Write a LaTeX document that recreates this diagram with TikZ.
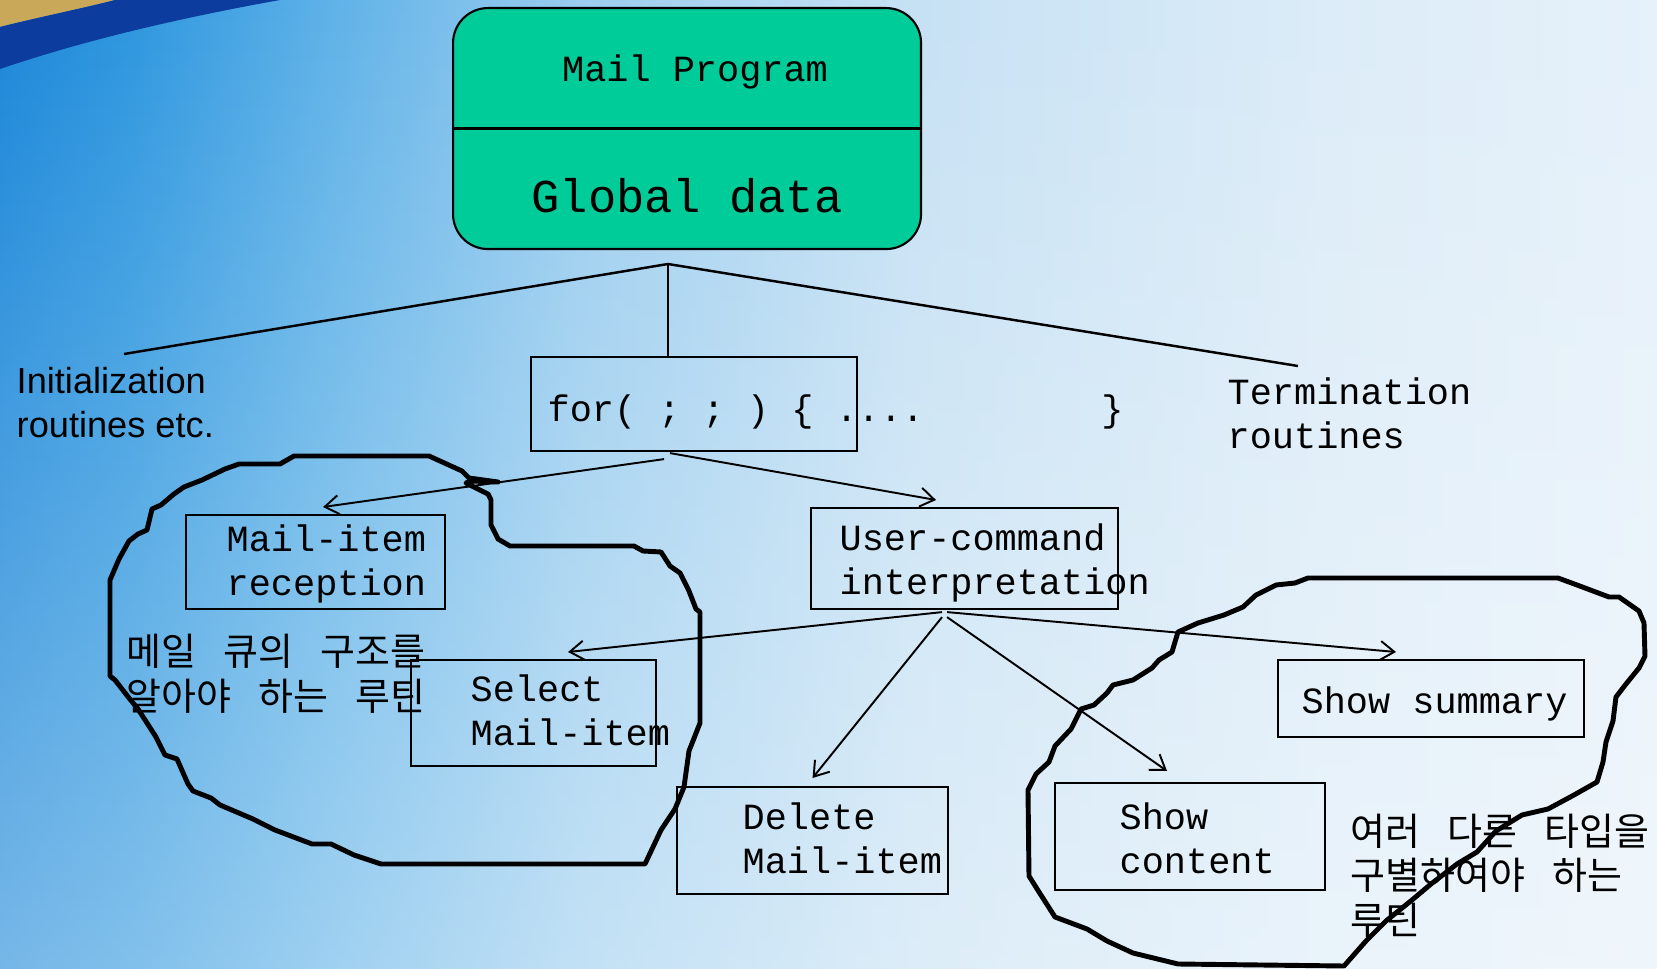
\documentclass[tikz,border=0pt]{standalone}
\usepackage{fontspec}
\setmonofont{Liberation Mono}
\setsansfont{Liberation Sans}
\newfontfamily\korfont[WordSpace=3.2]{Noto Sans CJK KR}
\usetikzlibrary{arrows.meta,fadings}

\definecolor{progfill}{HTML}{00CC99}
\definecolor{swoosh}{HTML}{0B3C9E}
\definecolor{corner}{HTML}{C9A85A}
\definecolor{bgA}{HTML}{1B87D9}
\definecolor{bgB}{HTML}{2E97DF}
\definecolor{bgC}{HTML}{5FB2E8}
\definecolor{bgD}{HTML}{9ACDEF}
\definecolor{bgE}{HTML}{C6E1F4}
\definecolor{bgF}{HTML}{DCECF8}
\definecolor{bgG}{HTML}{E6F1FA}
% the picture shows the middle 25bp--75bp of a shading
\pgfdeclarehorizontalshading{slidebg}{100bp}{color(0bp)=(bgA); color(25bp)=(bgA); color(29bp)=(bgB); color(35bp)=(bgC); color(42.5bp)=(bgD); color(52.5bp)=(bgE); color(65bp)=(bgF); color(75bp)=(bgG); color(100bp)=(bgG)}
\tikzfading[name=slidefade, top color=transparent!100, bottom color=transparent!60]

\newcommand\monotext{\fontsize{10.5}{12.5}\selectfont\ttfamily}
\newcommand\bigmono{\fontsize{13.4}{16}\selectfont\ttfamily}
\newcommand\sanstext{\fontsize{10.3}{12.3}\selectfont\sffamily}
\newcommand\kortext{\fontsize{10.8}{12.6}\selectfont\korfont}

\begin{document}
\begin{tikzpicture}[x=0.1mm,y=-0.1mm]
    \tikzstyle{box}=[rectangle,draw,line width=0.6pt,anchor=north west,inner sep=0pt]
    \tikzstyle{boxtext}=[anchor=west,align=left,inner sep=0pt,font=\monotext]
    \tikzstyle{note}=[anchor=base west,align=left,inner sep=0pt]
    \tikzstyle{progbox}=[rectangle,draw,line width=0.6pt,fill=progfill,rounded corners=3.5mm,anchor=north west,inner sep=0pt]
    \tikzstyle{tree}=[line width=0.7pt]
    \tikzstyle{call}=[line width=0.55pt,-{Straight Barb[length=1.4mm,width=1.9mm]}]
    \tikzstyle{blob}=[line width=1.4pt,line join=round]

    % slide background
    \useasboundingbox (0,0) rectangle (1657,969);
    \shade[shading=slidebg] (0,0) rectangle (1657,969);
    \fill[white,path fading=slidefade] (0,0) rectangle (1657,969);
    \fill[corner] (0,0) -- (115,0) .. controls (80,9) and (35,18) .. (0,27) -- cycle;
    \fill[swoosh] (0,27) .. controls (35,18) and (80,9) .. (115,0) -- (280,0)
        .. controls (180,18) and (85,40) .. (0,69) -- cycle;

    % main program
    \node (prog) at (452,7) [progbox,minimum width=46.8mm,minimum height=24.1mm] {};
    \draw[line width=0.85pt] (prog.west) -- (prog.east);
    \node (progname) at (695,72) [font=\monotext] {Mail Program};
    \node (progdata) at (687,196) [font=\bigmono] {Global data};

    % routines
    \node (loop) at (530,356) [box,minimum width=32.6mm,minimum height=9.4mm] {};
    \node (looptext) at (loop.west) [boxtext,xshift=1.7mm,yshift=-0.75mm] {for( ; ; ) \{ ....\ \ \ \ \ \ \ \ \}};
    \node (recv) at (185,514) [box,minimum width=25.9mm,minimum height=9.4mm] {};
    \node (recvtext) at (recv.west) [boxtext,xshift=4.1mm,yshift=-0.2mm] {Mail-item\\reception};
    \node (user) at (810,507) [box,minimum width=30.7mm,minimum height=10.1mm] {};
    \node (usertext) at (user.west) [boxtext,xshift=2.9mm,yshift=-0.4mm] {User-command\\interpretation};
    \node (select) at (410,659) [box,minimum width=24.5mm,minimum height=10.6mm] {};
    \node (selecttext) at (select.west) [boxtext,xshift=6mm,yshift=0.3mm] {Select\\Mail-item};
    \node (delete) at (676,786) [box,minimum width=27.1mm,minimum height=10.7mm] {};
    \node (deletetext) at (delete.west) [boxtext,xshift=6.6mm,yshift=0.2mm] {Delete\\Mail-item};
    \node (content) at (1054,782) [box,minimum width=27mm,minimum height=10.7mm] {};
    \node (contenttext) at (content.west) [boxtext,xshift=6.5mm,yshift=-0.2mm] {Show\\content};
    \node (summary) at (1277,659) [box,minimum width=30.6mm,minimum height=7.7mm] {};
    \node (summarytext) at (summary.west) [boxtext,xshift=2.4mm,yshift=-0.5mm] {Show summary};

    \node (init) at (16,437) [note,font=\sanstext] {Initialization\\routines etc.};
    \node (term) at (1227,448) [note,font=\monotext] {Termination\\routines};
    \node (queuenote) at (126,710) [note,font=\kortext] {메일 큐의 구조를\\알아야 하는 루틴};
    \node (typenote) at (1350,934) [note,font=\kortext] {여러 다른 타입을\\구별하여야 하는\\루틴};

    % program structure
    \coordinate (apex) at (668,264);
    \coordinate (initend) at (124,354);
    \coordinate (termend) at (1298,366);
    \draw[tree] (initend) -- (apex) -- (termend);
    \draw[tree] (apex) -- (apex |- loop.north);

    \draw[call] ([xshift=-3mm,yshift=-0.7mm]loop.south) -- ([xshift=0.75mm,yshift=0.7mm]recv.north);
    \draw[call] ([xshift=-2.4mm,yshift=-0.1mm]loop.south) -- ([xshift=-2.85mm,yshift=0.7mm]user.north);
    \draw[call] ([xshift=-2.25mm,yshift=-0.2mm]user.south) -- ([xshift=3.45mm,yshift=0.7mm]select.north);
    \draw[call] ([xshift=-2.25mm,yshift=-0.7mm]user.south) -- ([yshift=0.8mm]delete.north);
    \draw[call] ([xshift=-1.75mm,yshift=-0.7mm]user.south) -- ([xshift=-2.3mm,yshift=1.1mm]content.north);
    \draw[call] ([xshift=-1.75mm,yshift=-0.2mm]user.south) -- ([xshift=-3.5mm,yshift=0.7mm]summary.north);

    % routine groups
    \draw[blob] (294,456) -- (429,456) -- (440,461) -- (462,471) -- (469,478) -- (498,482)
        -- (470,481) -- (466,483) -- (488,494) -- (491,500) -- (491,525) -- (498,539)
        -- (510,546) -- (634,546) -- (643,551) -- (661,552) -- (670,566) -- (680,573)
        -- (689,591) -- (696,609) -- (700,612) -- (700,723) -- (689,751) -- (684,787)
        -- (675,809) -- (661,830) -- (645,864) -- (381,864) -- (354,855) -- (331,844)
        -- (312,844) -- (275,830) -- (253,819) -- (220,805) -- (211,798) -- (193,791)
        -- (188,784) -- (177,759) -- (165,755) -- (156,737) -- (138,709) -- (129,698)
        -- (115,680) -- (110,676) -- (110,580) -- (119,559) -- (129,541) -- (138,534)
        -- (147,530) -- (152,509) -- (161,505) -- (174,494) -- (184,487) -- (202,480)
        -- (225,469) -- (239,464) -- (280,464) -- cycle;
    \draw[blob] (1308,578) -- (1558,578) -- (1577,585) -- (1609,597) -- (1619,597)
        -- (1639,611) -- (1644,623) -- (1645,656) -- (1639,668) -- (1626,684)
        -- (1616,697) -- (1613,721) -- (1606,742) -- (1603,762) -- (1597,782)
        -- (1574,795) -- (1548,809) -- (1522,815) -- (1496,831) -- (1477,852)
        -- (1457,864) -- (1431,884) -- (1412,900) -- (1386,921) -- (1366,941)
        -- (1344,966) -- (1178,964) -- (1133,953) -- (1107,941) -- (1087,929)
        -- (1055,917) -- (1039,892) -- (1029,876) -- (1028,790) -- (1036,774)
        -- (1049,762) -- (1055,746) -- (1071,729) -- (1081,709) -- (1094,705)
        -- (1107,693) -- (1113,685) -- (1133,680) -- (1152,668) -- (1159,660)
        -- (1172,652) -- (1178,632) -- (1198,623) -- (1224,615) -- (1243,607)
        -- (1256,595) -- (1276,585) -- (1295,583) -- cycle;
\end{tikzpicture}
\end{document}
